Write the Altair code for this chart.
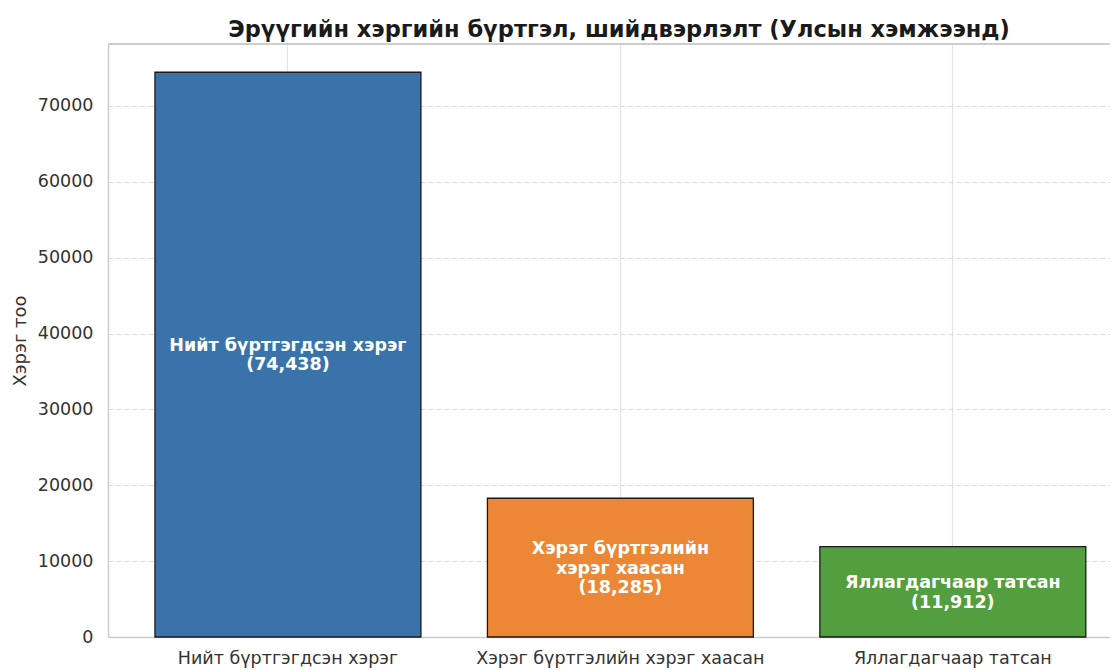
import altair as alt
import pandas as pd

categories = ["Нийт бүртгэгдсэн хэрэг", "Хэрэг бүртгэлийн хэрэг хаасан", "Яллагдагчаар татсан"]
values = [74438, 18285, 11912]
bar_labels = [
    ["Нийт бүртгэгдсэн хэрэг", "(74,438)"],
    ["Хэрэг бүртгэлийн", "хэрэг хаасан", "(18,285)"],
    ["Яллагдагчаар татсан", "(11,912)"],
]
colors = ["#3a73a9", "#ec8736", "#539f3f"]
y_ticks = [0, 10000, 20000, 30000, 40000, 50000, 60000, 70000]
y_max = 78160
title = "Эрүүгийн хэргийн бүртгэл, шийдвэрлэлт (Улсын хэмжээнд)"
y_title = "Хэрэг тоо"

df = pd.DataFrame({
    "cat": categories,
    "val": values,
    "lab": bar_labels,
    "nlines": [len(l) for l in bar_labels],
})

FONT = "DejaVu Sans"
LINE_H = 19.5

x_enc = alt.X(
    "cat:N",
    sort=categories,
    title=None,
    scale=alt.Scale(paddingInner=0.2, paddingOuter=0.107, align=0.66),
    axis=alt.Axis(
        labelAngle=0, labelLimit=0, labelOverlap=False, grid=True,
        gridColor="#e3e3e3", gridWidth=1.2, ticks=False, labelPadding=12,
        labelFontSize=17.5, labelFont=FONT, labelColor="#333333",
        domainColor="#cccccc", domainWidth=1.5,
    ),
)
y_scale = alt.Scale(domain=[0, y_max], nice=False, zero=True)

bars = alt.Chart(df).mark_bar(stroke="#1a1a1a", strokeWidth=1.3).encode(
    x=x_enc,
    y=alt.Y(
        "val:Q",
        scale=y_scale,
        title=y_title,
        axis=alt.Axis(
            values=y_ticks, format="d", grid=True, gridDash=[5, 3],
            gridColor="#dadada", gridWidth=1.2, ticks=False, labelPadding=15,
            labelFontSize=17.5, labelFont=FONT, labelColor="#333333",
            titleFont=FONT, titleFontSize=18, titleFontWeight="normal",
            titleColor="#333333", titlePadding=8,
            domainColor="#cccccc", domainWidth=1.5,
        ),
    ),
    color=alt.Color("cat:N", sort=categories,
                    scale=alt.Scale(domain=categories, range=colors), legend=None),
)

text_layers = []
for n in sorted(set(df["nlines"])):
    text_layers.append(
        alt.Chart(df)
        .transform_filter(f"datum.nlines == {n}")
        .transform_calculate(mid="datum.val / 2")
        .mark_text(
            color="white", font=FONT, fontSize=17.5, fontWeight="bold",
            align="center", baseline="middle", lineHeight=LINE_H,
            dy=-(n - 1) / 2 * LINE_H + 1,
        )
        .encode(
            x=alt.X("cat:N", sort=categories),
            y=alt.Y("mid:Q", scale=y_scale),
            text="lab",
        )
    )

top_line = alt.Chart(df).mark_rule(color="#cccccc", strokeWidth=1.5).encode(
    y=alt.datum(y_max, scale=y_scale)
)

chart = alt.layer(bars, *text_layers, top_line).properties(
    width=1002,
    height=593,
    padding={"left": 100, "top": 36, "right": 0, "bottom": 33},
    autosize=alt.AutoSizeParams(type="none"),
    title=alt.TitleParams(title, font=FONT, fontSize=22.5, fontWeight="bold",
                          color="#1a1a1a", anchor="middle", offset=2, dx=10),
).configure_view(stroke=None)

chart.save("out.html", embed_options={"renderer": "svg", "actions": False})
